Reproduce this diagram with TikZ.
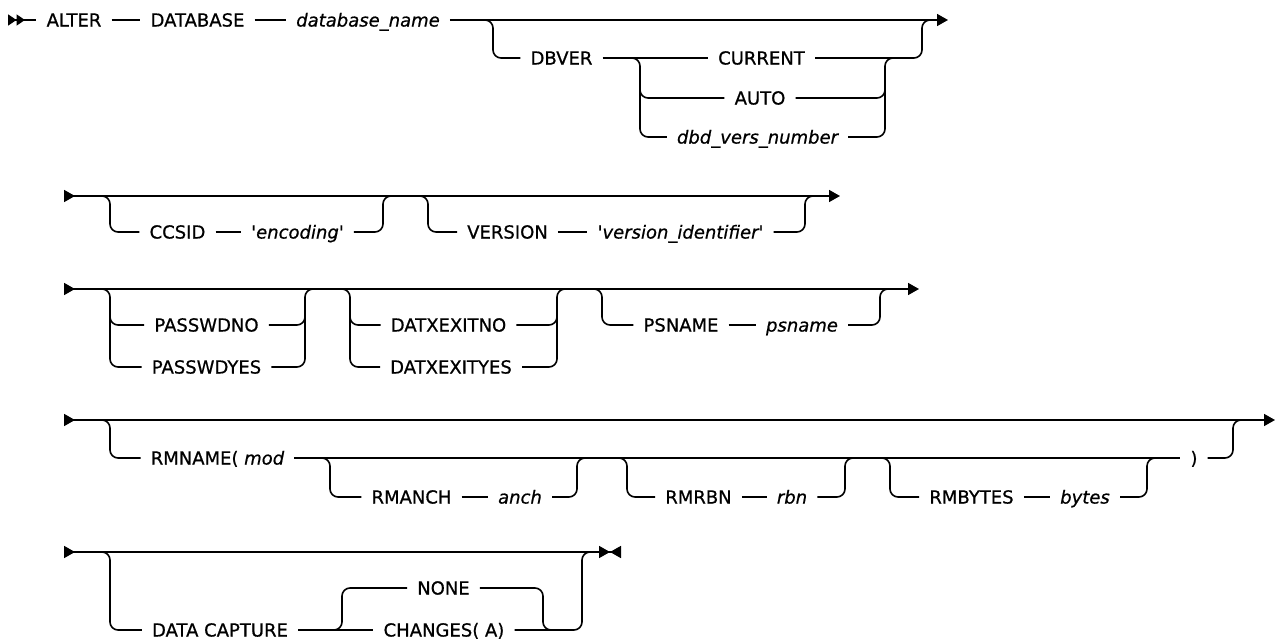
\documentclass[tikz,border=0pt]{standalone}
\usepackage{fontspec}
\setmainfont{DejaVu Sans}[FakeBold=0.7]
\usetikzlibrary{arrows.meta}

\begin{document}
\begin{tikzpicture}[x=1pt,y=-1pt,
  kw/.style={inner xsep=10pt,inner ysep=0pt,text height=13.1pt,text depth=0pt,font=\fontsize{18}{21}\selectfont},
  var/.style={kw,font=\fontsize{18}{21}\selectfont\itshape},
  rail/.style={line width=1.6pt,rounded corners=8pt},
  >={Triangle[length=11pt,width=12pt]}]
\useasboundingbox (0,0) rectangle (1277,644);

% row 1
\coordinate (s1) at (8,20);
\coordinate (e1) at (948,20);
\node[kw] (alter) at (74,20) {ALTER};
\node[kw] (database) at (197.5,20) {DATABASE};
\node[var] (dbname) at (368,20) {database\_name};
\draw[rail,>={Triangle[length=8.5pt,width=11pt]},>>-] (s1) -- (alter);
\draw[rail] (alter) -- (database) (database) -- (dbname);
\draw[rail,->] (dbname) -- (e1);
\coordinate (v1) at (493,20);
\coordinate (v2) at (922,20);
\coordinate (v3) at (640,58);
\coordinate (v4) at (885,58);
\node[kw] (dbver) at (561.5,58) {DBVER};
\node[kw] (current) at (761.5,58) {CURRENT};
\node[kw] (auto) at (760,98) {AUTO};
\node[var] (dbvnum) at (757.5,137) {dbd\_vers\_number};
\draw[rail] ([xshift=-8pt]v1) -- (v1) |- (dbver);
\draw[rail] (dbver) -- (current);
\draw[rail] ([xshift=-8pt]v3) -- (v3) |- (dbvnum);
\draw[rail] ([yshift=-20pt]v3) |- (auto);
\draw[rail] (dbvnum) -| (v4) -- ([xshift=8pt]v4);
\draw[rail] (auto) -| ([yshift=-20pt]v4);
\draw[rail] (current) -| (v2) -- ([xshift=8pt]v2);

% row 2
\coordinate (s2) at (64,196);
\coordinate (e2) at (840,196);
\draw[rail,>->] (s2) -- (e2);
\coordinate (v5) at (110,196);
\coordinate (v6) at (383,196);
\coordinate (v7) at (428,196);
\coordinate (v8) at (805,196);
\node[kw] (ccsid) at (177.5,232) {CCSID};
\node[var] (encoding) at (297.5,232) {\textquotesingle encoding\textquotesingle};
\node[kw] (version) at (507.5,232) {VERSION};
\node[var] (versionid) at (680.5,232) {\textquotesingle version\_identifier\textquotesingle};
\draw[rail] ([xshift=-8pt]v5) -- (v5) |- (ccsid);
\draw[rail] (ccsid) -- (encoding);
\draw[rail] (encoding) -| (v6) -- ([xshift=8pt]v6);
\draw[rail] ([xshift=-8pt]v7) -- (v7) |- (version);
\draw[rail] (version) -- (versionid);
\draw[rail] (versionid) -| (v8) -- ([xshift=8pt]v8);

% row 3
\coordinate (s3) at (64,289);
\coordinate (e3) at (919,289);
\draw[rail,>->] (s3) -- (e3);
\coordinate (v9) at (110,289);
\coordinate (v10) at (305,289);
\coordinate (v11) at (350,289);
\coordinate (v12) at (557,289);
\coordinate (v13) at (602,289);
\coordinate (v14) at (880,289);
\node[kw] (passwdno) at (206.5,325) {PASSWDNO};
\node[kw] (passwdyes) at (206.5,367) {PASSWDYES};
\node[kw] (datxno) at (448.5,325) {DATXEXITNO};
\node[kw] (datxyes) at (451,367) {DATXEXITYES};
\node[kw] (psnamekw) at (681,325) {PSNAME};
\node[var] (psname) at (802,325) {psname};
\draw[rail] ([xshift=-8pt]v9) -- (v9) |- (passwdyes);
\draw[rail] ([yshift=-20pt]v9) |- (passwdno);
\draw[rail] (passwdyes) -| (v10) -- ([xshift=8pt]v10);
\draw[rail] (passwdno) -| ([yshift=-20pt]v10);
\draw[rail] ([xshift=-8pt]v11) -- (v11) |- (datxyes);
\draw[rail] ([yshift=-20pt]v11) |- (datxno);
\draw[rail] (datxyes) -| (v12) -- ([xshift=8pt]v12);
\draw[rail] (datxno) -| ([yshift=-20pt]v12);
\draw[rail] ([xshift=-8pt]v13) -- (v13) |- (psnamekw);
\draw[rail] (psnamekw) -- (psname);
\draw[rail] (psname) -| (v14) -- ([xshift=8pt]v14);

% row 4
\coordinate (s4) at (64,420);
\coordinate (e4) at (1275,420);
\draw[rail,>->] (s4) -- (e4);
\coordinate (v15) at (110,420);
\coordinate (v16) at (1233,420);
\coordinate (v17) at (330,458);
\coordinate (v18) at (577,458);
\coordinate (v19) at (627,458);
\coordinate (v20) at (845,458);
\coordinate (v21) at (890,458);
\coordinate (v22) at (1147,458);
\node[kw] (rmname) at (217.5,458) {RMNAME( \textit{mod}};
\node[kw] (rparen) at (1194,458) {)};
\node[kw] (rmanch) at (411.5,497) {RMANCH};
\node[var] (anch) at (520,497) {anch};
\node[kw] (rmrbn) at (698.5,497) {RMRBN};
\node[var] (rbn) at (792,497) {rbn};
\node[kw] (rmbytes) at (971.5,497) {RMBYTES};
\node[var] (bytes) at (1085,497) {bytes};
\draw[rail] ([xshift=-8pt]v15) -- (v15) |- (rmname);
\draw[rail] (rmname) -- (rparen);
\draw[rail] (rparen) -| (v16) -- ([xshift=8pt]v16);
\draw[rail] ([xshift=-8pt]v17) -- (v17) |- (rmanch);
\draw[rail] (rmanch) -- (anch);
\draw[rail] (anch) -| (v18) -- ([xshift=8pt]v18);
\draw[rail] ([xshift=-8pt]v19) -- (v19) |- (rmrbn);
\draw[rail] (rmrbn) -- (rbn);
\draw[rail] (rbn) -| (v20) -- ([xshift=8pt]v20);
\draw[rail] ([xshift=-8pt]v21) -- (v21) |- (rmbytes);
\draw[rail] (rmbytes) -- (bytes);
\draw[rail] (bytes) -| (v22) -- ([xshift=8pt]v22);

% row 5
\coordinate (s5) at (64,552);
\coordinate (e5) at (621,552);
\draw[rail,>-><] (s5) -- (e5);
\coordinate (v23) at (110,552);
\coordinate (v24) at (342,630);
\coordinate (v25) at (543,630);
\coordinate (v26) at (582,552);
\node[kw] (datacap) at (220,630) {DATA CAPTURE};
\node[kw] (none) at (443.5,588) {NONE};
\node[kw] (changes) at (444,630) {CHANGES( A)};
\draw[rail] ([xshift=-8pt]v23) -- (v23) |- (datacap);
\draw[rail] (datacap) -- (changes);
\draw[rail] ([xshift=-8pt]v24) -- (v24) |- (none);
\draw[rail] (none) -| (v25) -- ([xshift=8pt]v25);
\draw[rail] (changes) -| (v26) -- ([xshift=8pt]v26);
\end{tikzpicture}
\end{document}
